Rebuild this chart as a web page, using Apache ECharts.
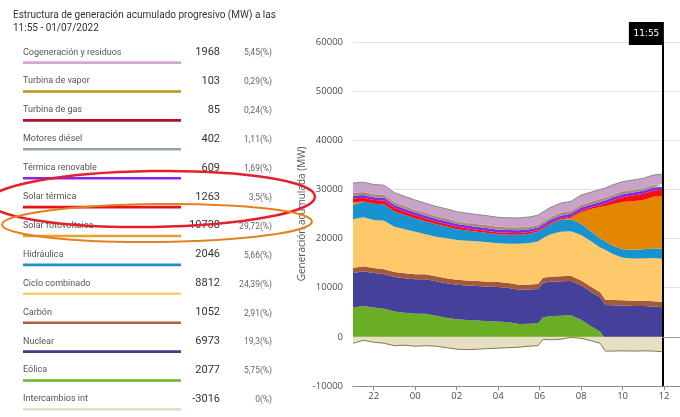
<!DOCTYPE html>
<html><head><meta charset="utf-8">
<script src="https://cdn.jsdelivr.net/npm/echarts@6/dist/echarts.min.js"></script>
<style>html,body{margin:0;padding:0;background:#fff}#c{width:680px;height:417px}</style>
</head><body><div id="c"></div>
<script>
// ---- data ----
const times = ['21:00','21:30','22:00','22:30','23:00','23:30','00:00','00:30','01:00','01:30','02:00','02:30','03:00','03:30','04:00','04:30','05:00','05:30','05:55','06:10','06:30','07:00','07:30','08:00','08:30','08:55','09:10','09:30','10:00','10:30','11:00','11:30','11:55'];
const intercambios = [-1300,-700,-1100,-1300,-1800,-1700,-1900,-1800,-1900,-2200,-2500,-2600,-2500,-2400,-2300,-2200,-2100,-1900,-1800,-500,-600,-500,-100,-300,-800,-1300,-2900,-2900,-2850,-2900,-2850,-2900,-3016];
const eolica = [7260,7000,7060,7000,6950,6600,6580,6500,6170,6100,6090,6050,5820,5600,5420,5150,4700,4550,4550,4500,4800,4800,4500,3760,2900,2380,2400,2350,2250,2200,2150,2100,2077];
const nuclear = [7050,7050,7050,7040,7040,7030,7030,7020,7020,7020,7010,7010,7010,7000,7000,7000,7000,7000,7000,6990,6990,6990,6990,6990,6980,6980,6980,6980,6980,6975,6975,6975,6973];
const carbon = [1020,1020,1020,1020,1020,1020,1020,1020,1020,1020,1020,1020,1020,1020,1020,1020,1020,1020,1020,1030,1030,1030,1030,1040,1040,1040,1050,1050,1050,1050,1050,1050,1052];
const cicloCombinado = [9890,9950,9750,9890,9210,8950,8670,8160,8080,8110,8090,8060,8100,8030,7890,7980,8330,8430,8610,8080,8600,9090,9080,9240,9280,9100,10170,9420,8690,8625,8595,8825,8812];
const hidraulica = [2900,3200,3300,3350,3100,2900,2700,2600,2500,2400,2200,2100,1950,1900,1850,1850,1850,1900,2000,1950,2100,2350,2450,2300,2000,1800,1750,1700,1700,1800,1900,2000,2046];
const fotovoltaica = [500,0,0,0,0,0,0,0,0,0,0,0,0,0,0,0,0,0,0,0,0,50,250,2400,4600,6400,7150,8400,9600,9850,10050,10450,10738];
const solarTermica = [850,800,780,740,700,660,630,600,560,520,480,450,420,400,380,360,340,320,300,290,280,260,250,280,350,450,550,750,1000,1150,1250,1280,1263];
const termicaRenovable = [560,560,560,560,560,560,560,560,560,560,560,560,560,560,560,560,560,560,560,570,570,580,580,590,590,600,600,600,605,605,605,608,609];
const motoresDiesel = [410,410,410,405,405,405,400,400,400,400,400,400,400,400,400,400,400,400,400,400,400,400,400,400,400,400,400,400,402,402,402,402,402];
const turbinaGas = [90,90,90,90,90,90,88,88,88,88,88,88,88,88,88,88,88,88,88,86,86,86,86,86,86,86,85,85,85,85,85,85,85];
const turbinaVapor = [105,105,105,105,105,105,105,105,105,105,104,104,104,104,104,104,104,104,104,104,103,103,103,103,103,103,103,103,103,103,103,103,103];
const cogeneracion = [1980,1990,1980,1970,1960,1950,1950,1940,1940,1930,1930,1920,1920,1920,1910,1910,1910,1920,1930,1930,1940,1950,1950,1960,1960,1960,1960,1965,1965,1965,1968,1968,1968];

const xTickStepHours = 2;
const xTickOrigin = '22:00';
const yMin = -10000, yMax = 60000, yStep = 10000;
const currentTime = '11:55';
const axisEndTime = '12:46';

const tableNames = ['Cogeneración y residuos','Turbina de vapor','Turbina de gas','Motores diésel','Térmica renovable','Solar térmica','Solar fotovoltaica','Hidráulica','Ciclo combinado','Carbón','Nuclear','Eólica','Intercambios int'];
const tableValues = [1968,103,85,402,609,1263,10738,2046,8812,1052,6973,2077,-3016];
const tablePercents = ['5,45(%)','0,29(%)','0,24(%)','1,11(%)','1,69(%)','3,5(%)','29,72(%)','5,66(%)','24,39(%)','2,91(%)','19,3(%)','5,75(%)','0(%)'];
const titleLines = ['Estructura de generación acumulado progresivo (MW) a las','11:55 - 01/07/2022'];
const yAxisName = 'Generación acumulada (MW)';

// ---- styles ----
const tableColors = ['#d6a8d6','#b8961a','#b0102a','#94a3a0','#9022e6','#e8101a','#eaa02c','#1e8fc6','#fbd06c','#b05f3c','#3f3d8a','#6cb52d','#e8dfc8'];
const chartColors = {
  'Intercambios int':'#e7dfc1','Eólica':'#6aae24','Nuclear':'#45409a','Carbón':'#a3593a',
  'Ciclo combinado':'#fdc96a','Hidráulica':'#1993cf','Solar fotovoltaica':'#e28600','Solar térmica':'#fa0f0f',
  'Térmica renovable':'#8a25e0','Motores diésel':'#8d9694','Turbina de gas':'#b3122b','Turbina de vapor':'#b8960c',
  'Cogeneración y residuos':'#c9a2c9'
};

function toTs(s){
  const p = s.split(':').map(Number);
  const hh = p[0] >= 21 ? p[0] : p[0] + 24;
  return new Date(2022,5,30,21,0).getTime() + ((hh-21)*60 + (p[1]||0))*60000;
}
const xs = times.map(toTs);
const tCur = toTs(currentTime);
const tMin = toTs(times[0]);
const tMax = toTs(axisEndTime);
const tOrigin = toTs(xTickOrigin);
const HOUR = 3600000;

const stack = [
  ['Intercambios int', intercambios], ['Eólica', eolica], ['Nuclear', nuclear], ['Carbón', carbon],
  ['Ciclo combinado', cicloCombinado], ['Hidráulica', hidraulica], ['Solar fotovoltaica', fotovoltaica],
  ['Solar térmica', solarTermica], ['Térmica renovable', termicaRenovable], ['Motores diésel', motoresDiesel],
  ['Turbina de gas', turbinaGas], ['Turbina de vapor', turbinaVapor], ['Cogeneración y residuos', cogeneracion]
];

const series = stack.map(([name, vals], i) => {
  const c = chartColors[name];
  let line = {width: 0};
  if (name === 'Intercambios int') line = {width: 1, color: '#8a7b5c'};
  if (name === 'Cogeneración y residuos') line = {width: 1, color: '#8a8a8a'};
  return {
    name, type: 'line', stack: 'gen', stackStrategy: 'all', symbol: 'none', showSymbol: false,
    silent: true, animation: false, xAxisIndex: 0,
    data: xs.map((x, j) => [x, vals[j]]),
    lineStyle: line, itemStyle: {color: c}, areaStyle: {color: c, opacity: 1},
    z: name === 'Intercambios int' ? 4 : 2
  };
});
series.push({
  type: 'line', data: [], z: 10, silent: true, xAxisIndex: 0,
  markLine: {
    silent: true, symbol: 'none', animation: false, label: {show: false},
    data: [
      {xAxis: tCur, lineStyle: {color: '#000', width: 2, type: 'solid'}},
      [{coord: [tCur, 0], lineStyle: {color: '#9a9a9a', width: 1, type: 'solid'}}, {coord: [tMax, 0], lineStyle: {color: '#9a9a9a', width: 1, type: 'solid'}}]
    ]
  }
});

const chart = echarts.init(document.getElementById('c'), null, {renderer: 'canvas'});
chart.setOption({
  animation: false,
  backgroundColor: '#fff',
  textStyle: {fontFamily: 'Open Sans'},
  grid: {left: 353, right: 0, top: 42, bottom: 31, containLabel: false, outerBoundsMode: 'none'},
  xAxis: [{
    type: 'time', min: tMin, max: tMax, position: 'bottom',
    axisLine: {onZero: false, lineStyle: {color: '#8c8c8c', width: 1}},
    axisTick: {show: false}, axisLabel: {show: false},
    splitLine: {show: false}, minorTick: {show: false}
  }, {
    // hours counted from 22:00, used only for the tick marks and labels
    type: 'value', position: 'bottom', offset: 0,
    min: (tMin - tOrigin) / HOUR, max: (tMax - tOrigin) / HOUR,
    minInterval: xTickStepHours, maxInterval: xTickStepHours,
    axisLine: {show: false, onZero: false},
    axisTick: {show: true, length: 4, lineStyle: {color: '#8c8c8c'}},
    axisLabel: {color: '#4a4a4a', fontSize: 9.5, fontFamily: 'Open Sans', margin: 5,
      showMinLabel: false, showMaxLabel: false,
      formatter: function (h) { return String(((Math.round(h) + 22) % 24 + 24) % 24).padStart(2, '0'); }},
    splitLine: {show: false}
  }],
  yAxis: {
    type: 'value', min: yMin, max: yMax, interval: yStep,
    axisLine: {show: false}, axisTick: {show: false},
    axisLabel: {color: '#4a4a4a', fontSize: 9.5, fontFamily: 'Open Sans', margin: 10, formatter: function (v) { return String(v); }},
    splitLine: {lineStyle: {color: '#e2e2e2', width: 1}},
    name: yAxisName, nameLocation: 'middle', nameGap: 46,
    nameTextStyle: {color: '#555', fontSize: 10, fontFamily: 'Open Sans'}
  },
  series
});

// ---- left panel, tooltip box and annotations ----
const g = [];
titleLines.forEach((t, i) => g.push({type: 'text', z: 50, style: {text: t, x: 13, y: 15 + i * 13.5, fill: '#333', font: '10px Roboto', textAlign: 'left', textVerticalAlign: 'middle'}}));
tableNames.forEach((n, i) => {
  const y = 52.3 + i * 28.9;
  g.push({type: 'text', z: 50, style: {text: n, x: 23, y: y, fill: '#555', font: '9px Roboto', textAlign: 'left', textVerticalAlign: 'middle'}});
  g.push({type: 'text', z: 50, style: {text: String(tableValues[i]), x: 220, y: y, fill: '#333', font: '11px Roboto', textAlign: 'right', textVerticalAlign: 'middle'}});
  g.push({type: 'text', z: 50, style: {text: tablePercents[i], x: 272, y: y + 1, fill: '#666', font: '8.5px Roboto', textAlign: 'right', textVerticalAlign: 'middle'}});
  g.push({type: 'rect', z: 50, shape: {x: 23, y: y + 9, width: 158, height: 2.6}, style: {fill: tableColors[i]}});
});
const p = chart.convertToPixel({gridIndex: 0}, [tCur, yMax]);
g.push({type: 'rect', z: 60, shape: {x: p[0] - 33.5, y: 22, width: 35, height: 23}, style: {fill: '#000'}});
g.push({type: 'text', z: 61, style: {text: currentTime, x: p[0] - 16, y: 33.5, fill: '#fff', font: '9px "DejaVu Sans"', textAlign: 'center', textVerticalAlign: 'middle'}});
g.push({type: 'ellipse', z: 100, originX: 152, originY: 199, rotation: 0.015, shape: {cx: 152, cy: 199, rx: 163, ry: 28}, style: {fill: 'none', stroke: '#e4202c', lineWidth: 2.5}});
g.push({type: 'ellipse', z: 100, originX: 157, originY: 223, rotation: 0.01, shape: {cx: 157, cy: 223, rx: 155, ry: 19}, style: {fill: 'none', stroke: '#e3801f', lineWidth: 2}});
chart.setOption({graphic: g});
</script>
</body></html>
